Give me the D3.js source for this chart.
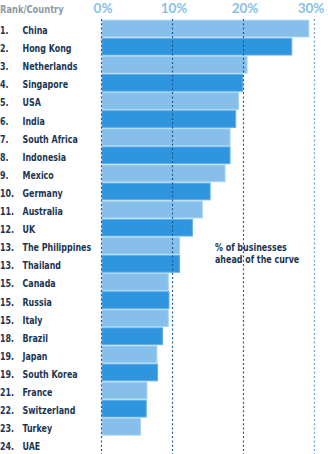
<!DOCTYPE html>
<html><head><meta charset="utf-8">
<script src="https://cdn.jsdelivr.net/npm/d3@7"></script>
<style>
html,body{margin:0;padding:0;background:#fff;}
svg{display:block;}
</style></head>
<body>
<div id="chart"></div>
<script>
const ranks = ["1.","2.","3.","4.","5.","6.","7.","8.","9.","10.","11.","12.","13.","13.","15.","15.","15.","18.","19.","19.","21.","22.","23.","24."];
const countries = ["China","Hong Kong","Netherlands","Singapore","USA","India","South Africa","Indonesia","Mexico","Germany","Australia","UK","The Philippines","Thailand","Canada","Russia","Italy","Brazil","Japan","South Korea","France","Switzerland","Turkey","UAE"];
const values = [29.2,26.8,20.5,19.9,19.3,18.9,18.1,18.1,17.4,15.3,14.2,12.8,11.0,11.0,9.4,9.5,9.4,8.6,7.8,7.9,6.4,6.3,5.5,0];
const ticks = [0,10,20,30];
const tickLabels = ["0%","10%","20%","30%"];
const headerText = "Rank/Country";
const noteLines = ["% of businesses","ahead of the curve"];

const W = 328, H = 454;
const font = "'DejaVu Sans Condensed','DejaVu Sans',sans-serif";
const squeeze = 0.84;
const svg = d3.select("#chart").append("svg").attr("width", W).attr("height", H);

const x = d3.scaleLinear().domain([0,30]).range([101.5, 314.5]);
const y = d3.scaleBand().domain(countries).range([19.5, 19.5 + 24*18.1]).paddingInner(0.02).paddingOuter(0.01);

function condense(sel, f) {
  sel.each(function() {
    const len = this.getComputedTextLength();
    if (len > 0) d3.select(this).attr("textLength", len * f).attr("lengthAdjust", "spacingAndGlyphs");
  });
}

// bars
svg.append("g").selectAll("rect").data(countries).join("rect")
  .attr("x", x(0) + 0.5)
  .attr("y", d => y(d) + 0.5)
  .attr("width", (d,i) => Math.max(0, x(values[i]) - x(0) - 0.5))
  .attr("height", y.bandwidth() - 1)
  .attr("fill", (d,i) => i % 2 === 0 ? "#86bfea" : "#2e95de")
  .attr("stroke", (d,i) => values[i] > 0 ? (i % 2 === 0 ? "#a8d3f2" : "#62afe6") : "none")
  .attr("stroke-width", 1);

// grid lines
svg.append("g").selectAll("line").data(ticks).join("line")
  .attr("x1", d => x(d)).attr("x2", d => x(d))
  .attr("y1", 19).attr("y2", H)
  .attr("stroke", d => d === 30 ? "#6aa6d8" : "#1d5c98")
  .attr("stroke-width", 1.2)
  .attr("stroke-dasharray", "2,2.3");

// tick labels
svg.append("g").selectAll("text").data(ticks).join("text")
  .attr("x", (d,i) => Math.min(x(d) + 1.5, W - 17))
  .attr("y", 13)
  .attr("text-anchor", "middle")
  .attr("font-family", "Lato,'Open Sans',sans-serif")
  .attr("font-weight", "bold")
  .attr("font-size", 13.5)
  .attr("fill", "#86c1ea")
  .text((d,i) => tickLabels[i]);

// header
svg.append("text").attr("x", 0).attr("y", 12.5)
  .attr("font-family", font).attr("font-weight", "bold").attr("font-size", 11)
  .attr("fill", "#8e9aa5").text(headerText)
  .call(condense, squeeze);

// row labels
const rows = svg.append("g").selectAll("g").data(countries).join("g")
  .attr("transform", d => `translate(0,${y(d) + y.bandwidth()/2 + 5.5})`);
rows.append("text").attr("x", 0)
  .attr("font-family", font).attr("font-weight", "bold").attr("font-size", 10.5)
  .attr("fill", "#1b3553").text((d,i) => ranks[i])
  .call(condense, squeeze);
rows.append("text").attr("x", 22.5)
  .attr("font-family", font).attr("font-weight", "bold").attr("font-size", 10.5)
  .attr("fill", "#1b3553").text(d => d)
  .call(condense, squeeze);

// note
svg.append("g").selectAll("text").data(noteLines).join("text")
  .attr("x", 215).attr("y", (d,i) => 251 + i * 11.5)
  .attr("font-family", font).attr("font-weight", "bold").attr("font-size", 10.5)
  .attr("fill", "#1b3553").text(d => d)
  .call(condense, squeeze);
</script>
</body></html>
